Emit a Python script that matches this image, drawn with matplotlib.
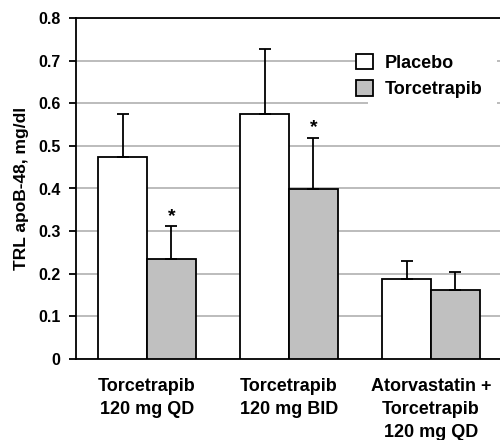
import matplotlib
matplotlib.use("Agg")
import matplotlib.pyplot as plt
import numpy as np
from matplotlib.patches import Rectangle

plt.rcParams['font.family'] = ['Liberation Sans', 'DejaVu Sans']
plt.rcParams['font.weight'] = 'bold'

categories = ["Torcetrapib\n120 mg QD", "Torcetrapib\n120 mg BID", "Atorvastatin +\nTorcetrapib\n120 mg QD"]
placebo = [0.474, 0.574, 0.187]
placebo_err = [0.101, 0.153, 0.044]
torcetrapib = [0.234, 0.398, 0.163]
torcetrapib_err = [0.077, 0.121, 0.041]
significant = [True, True, False]
yticks = [0, 0.1, 0.2, 0.3, 0.4, 0.5, 0.6, 0.7, 0.8]
ytick_labels = ["0", "0.1", "0.2", "0.3", "0.4", "0.5", "0.6", "0.7", "0.8"]

W, H = 500, 440
fig = plt.figure(figsize=(5, 4.4), dpi=100)
ax = fig.add_axes([76 / W, 1 - 359 / H, 426 / W, 341 / H])

x = np.arange(len(categories))
w = 0.345
ax.set_axisbelow(True)
ax.yaxis.grid(True, color='#b0b0b0', linewidth=1.2)

ekw = dict(elinewidth=1.3, capthick=1.3, ecolor='black')
ax.bar(x - w / 2, placebo, w, color='white', edgecolor='black', linewidth=1.3, zorder=3,
       yerr=[np.zeros(3), placebo_err], capsize=4, error_kw=ekw, label='Placebo')
ax.bar(x + w / 2, torcetrapib, w, color='#c0c0c0', edgecolor='black', linewidth=1.3, zorder=3,
       yerr=[np.zeros(3), torcetrapib_err], capsize=4, error_kw=ekw, label='Torcetrapib')

for i, s in enumerate(significant):
    if s:
        ax.annotate('*', (x[i] + w / 2, torcetrapib[i] + torcetrapib_err[i]),
                    xytext=(0, 1), textcoords='offset points', ha='center', va='bottom',
                    fontsize=14, fontweight='bold')

# white background behind legend
ax.add_patch(Rectangle((1.556, 0.588), 0.91, 0.14, facecolor='white', edgecolor='none', zorder=1))

ax.set_xlim(-0.5, 2.5)
ax.set_ylim(0, 0.8)
ax.set_yticks(yticks)
ax.set_yticklabels(ytick_labels, fontsize=11.5, fontweight='bold')
ax.set_xticks(x)
ax.set_xticklabels(categories, fontsize=13, fontweight='bold', linespacing=1.45, va='top')
ax.tick_params(axis='x', length=0, pad=14)
ax.tick_params(axis='y', length=5, width=1.3, direction='out', pad=6)
for sp in ['left', 'bottom', 'top']:
    ax.spines[sp].set_linewidth(1.3)
ax.spines['right'].set_visible(False)

ax.set_ylabel('TRL apoB-48, mg/dl', fontsize=12.5, fontweight='bold')
ax.yaxis.set_label_coords(-0.11, 0.5)

leg = ax.legend(loc='upper left', bbox_to_anchor=(356 / W, 1 - 54 / H),
                bbox_transform=fig.transFigure, frameon=False, fontsize=13,
                handlelength=0.94, handleheight=0.94, handletextpad=0.65,
                labelspacing=0.45, borderpad=0, borderaxespad=0)
for t in leg.get_texts():
    t.set_fontweight('bold')

fig.savefig('out.png', dpi=100)
